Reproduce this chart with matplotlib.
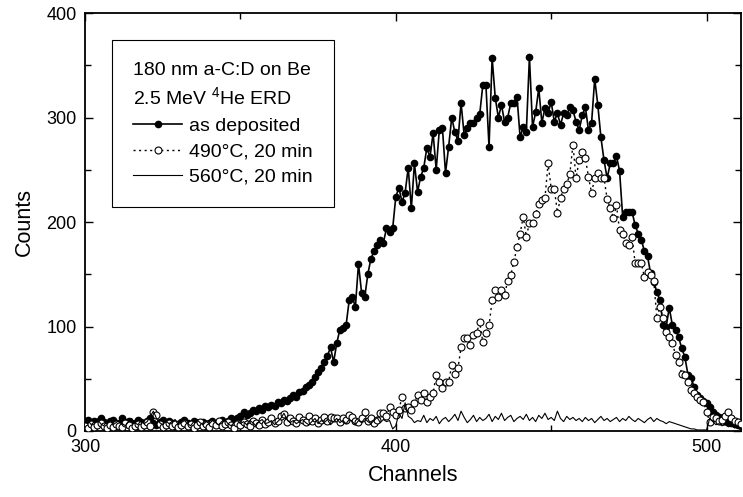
import numpy as np
import matplotlib
matplotlib.use('Agg')
from matplotlib import pyplot as plt
from matplotlib.ticker import MultipleLocator

plt.rcParams['font.family'] = ['Liberation Sans', 'DejaVu Sans']
plt.rcParams['mathtext.fontset'] = 'custom'
plt.rcParams['mathtext.rm'] = 'Liberation Sans'

# ERD spectra, one value per channel (300 ... 511)
channels = np.arange(300, 512)

as_deposited = [
    9, 11, 7, 10, 8, 12, 9, 6, 10, 11,
    8, 7, 12, 9, 10, 6, 8, 11, 9, 7,
    10, 12, 8, 6, 9, 11, 7, 10, 8, 5,
    7, 9, 11, 8, 6, 10, 8, 7, 9, 6,
    8, 10, 7, 9, 11, 8, 10, 12, 9, 12,
    14, 18, 15, 17, 20, 19, 22, 20, 24, 23,
    25, 24, 28, 27, 30, 29, 32, 34, 33, 37,
    38, 42, 44, 47, 52, 56, 60, 66, 72, 80,
    66, 84, 97, 99, 101, 125, 128, 119, 160, 132,
    128, 150, 165, 172, 178, 183, 180, 194, 190, 194,
    224, 233, 219, 228, 252, 213, 256, 229, 243, 252,
    271, 262, 285, 250, 288, 290, 247, 272, 300, 286,
    278, 314, 283, 290, 295, 295, 300, 303, 331, 331,
    272, 357, 319, 300, 312, 296, 300, 314, 314, 320,
    281, 291, 286, 358, 291, 305, 328, 295, 309, 304,
    315, 296, 304, 293, 304, 302, 310, 307, 296, 288,
    302, 310, 288, 295, 337, 312, 281, 259, 242, 256,
    256, 263, 249, 205, 210, 210, 210, 197, 189, 183,
    172, 167, 151, 143, 133, 125, 101, 100, 118, 101,
    97, 90, 79, 71, 54, 51, 42, 34, 32, 29,
    27, 23, 18, 15, 13, 12, 10, 9, 8, 7,
    6, 5,
]

annealed_490 = [
    5, 3, 7, 4, 6, 8, 5, 3, 6, 4,
    7, 5, 4, 8, 6, 3, 5, 7, 4, 6,
    9, 5, 18, 15, 7, 4, 6, 8, 5, 7,
    4, 6, 8, 5, 7, 3, 6, 9, 5, 7,
    4, 8, 6, 10, 5, 7, 9, 6, 3, 8,
    6, 9, 7, 5, 10, 8, 6, 11, 7, 9,
    12, 8, 10, 14, 16, 9, 12, 10, 8, 13,
    11, 9, 14, 10, 12, 8, 11, 13, 10, 13,
    12, 12, 9, 12, 11, 15, 13, 10, 9, 12,
    18, 10, 12, 8, 11, 17, 17, 14, 23, 18,
    15, 20, 33, 22, 23, 20, 27, 34, 30, 36,
    28, 33, 36, 54, 47, 41, 47, 47, 63, 55,
    60, 80, 89, 89, 82, 92, 94, 104, 85, 94,
    101, 125, 135, 128, 135, 130, 144, 149, 162, 176,
    189, 205, 186, 199, 199, 208, 217, 221, 223, 256,
    232, 232, 209, 223, 232, 236, 246, 274, 242, 259,
    267, 261, 243, 228, 242, 247, 242, 242, 222, 213,
    204, 216, 192, 189, 180, 178, 186, 161, 161, 161,
    147, 152, 149, 144, 108, 119, 108, 95, 90, 84,
    73, 66, 55, 54, 47, 39, 36, 33, 30, 28,
    18, 9, 13, 12, 10, 11, 14, 18, 12, 10,
    9, 7,
]

annealed_560 = [
    8, 10, 6, 9, 12, 7, 5, 9, 11, 6,
    8, 10, 7, 5, 9, 12, 8, 6, 10, 7,
    9, 14, 19, 12, 8, 6, 10, 7, 9, 11,
    6, 8, 10, 7, 5, 9, 11, 8, 6, 9,
    7, 10, 8, 6, 9, 11, 7, 5, 8, 10,
    7, 9, 6, 10, 8, 5, 9, 11, 7, 8,
    10, 6, 9, 12, 17, 11, 8, 10, 7, 9,
    11, 8, 6, 9, 12, 7, 10, 8, 11, 6,
    9, 12, 8, 10, 7, 11, 9, 6, 10, 8,
    12, 9, 7, 10, 13, 8, 11, 9, 10, 2,
    5, 17, 12, 27, 14, 12, 8, 10, 9, 15,
    8, 12, 10, 14, 7, 11, 13, 9, 12, 16,
    10, 19, 13, 8, 11, 15, 9, 13, 10, 12,
    16, 9, 14, 11, 17, 10, 13, 15, 9, 12,
    14, 11, 16, 10, 13, 9, 15, 12, 17, 11,
    13, 10, 19, 12, 9, 14, 11, 13, 10, 12,
    9, 13, 10, 12, 8, 11, 14, 10, 12, 9,
    11, 13, 9, 12, 10, 14, 11, 9, 12, 10,
    8, 11, 13, 9, 12, 10, 9, 7, 9, 8,
    7, 6, 5, 4, 3, 2, 2, 1, 1, 1,
    1, 12, 9, 6, 7, 5, 6, 4, 5, 3,
    4, 3,
]

fig = plt.figure(figsize=(7.43, 4.97), dpi=100)
ax = fig.add_axes([0.1144, 0.1328, 0.8826, 0.841])

ax.plot(channels, as_deposited, color='black', lw=1.2, marker='o', ms=4.5,
        mfc='black', mec='black', label='as deposited', zorder=2)
ax.plot(channels, annealed_490, color='black', lw=1.0, ls=(0, (1.5, 2.5)),
        marker='o', ms=5, mfc='white', mec='black', mew=0.8,
        label='490\u00b0C, 20 min', zorder=3)
ax.plot(channels, annealed_560, color='black', lw=0.8, label='560\u00b0C, 20 min',
        zorder=4)

ax.set_xlim(300, 511)
ax.set_ylim(0, 400)
ax.xaxis.set_major_locator(MultipleLocator(100))
ax.xaxis.set_minor_locator(MultipleLocator(50))
ax.yaxis.set_major_locator(MultipleLocator(100))
ax.yaxis.set_minor_locator(MultipleLocator(50))
ax.tick_params(which='both', direction='in', top=True, right=True,
               labelsize=13, width=1.0)
ax.tick_params(which='major', length=6, pad=6)
ax.tick_params(which='minor', length=4)
for s in ax.spines.values():
    s.set_linewidth(1.3)

ax.set_xlabel('Channels', fontsize=15.5, labelpad=6)
ax.set_ylabel('Counts', fontsize=15.5, labelpad=8)

# the two description lines sit in the legend title
leg = ax.legend(loc='upper left', bbox_to_anchor=(0.041, 0.935), borderaxespad=0,
                title='180 nm a-C:D on Be\n2.5 MeV $^4$He ERD',
                title_fontsize=14, fontsize=14, alignment='left',
                fancybox=False, framealpha=1, edgecolor='black',
                handlelength=2.5, handletextpad=0.35, labelspacing=0.4,
                borderpad=1.1)
leg.get_title().set_linespacing(1.45)
leg.get_frame().set_linewidth(0.8)

fig.savefig('out.png', dpi=100)
